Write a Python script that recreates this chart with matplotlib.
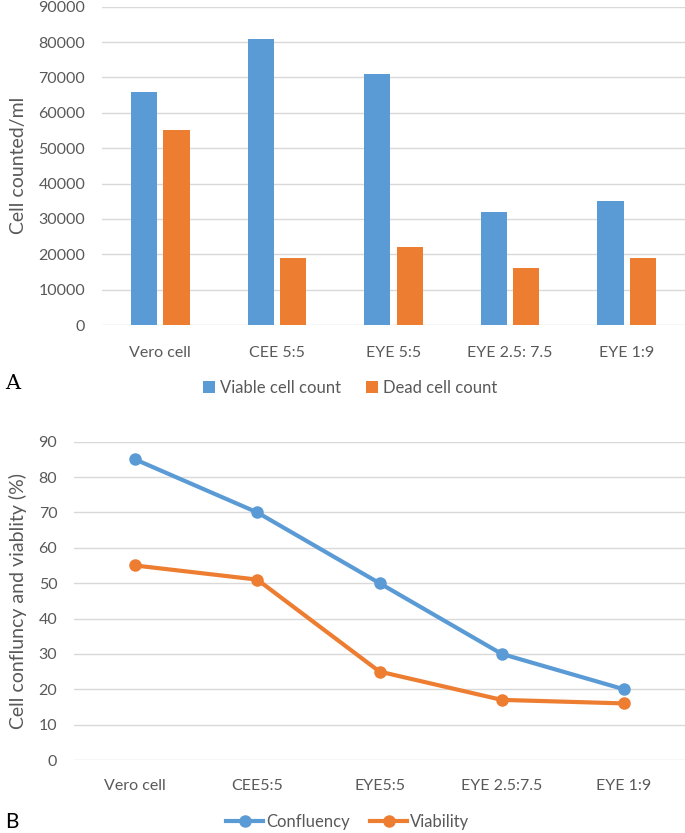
import matplotlib
matplotlib.use("Agg")
import matplotlib.pyplot as plt
import numpy as np

plt.rcParams["font.family"] = ["Lato", "DejaVu Sans"]

# panel A: cell counts
cats_a = ["Vero cell", "CEE 5:5", "EYE 5:5", "EYE 2.5: 7.5", "EYE 1:9"]
viable = [66000, 81000, 71000, 32000, 35000]
dead = [55000, 19000, 22000, 16000, 19000]

# panel B: confluency / viability
cats_b = ["Vero cell", "CEE5:5", "EYE5:5", "EYE 2.5:7.5", "EYE 1:9"]
confluency = [85, 70, 50, 30, 20]
viability = [55, 51, 25, 17, 16]

BLUE, ORANGE, GRID, TXT = "#5B9BD5", "#ED7D31", "#D9D9D9", "#595959"
W, H = 685, 833

fig = plt.figure(figsize=(W / 100, H / 100), dpi=100)


def style(ax):
    for s in ax.spines.values():
        s.set_visible(False)
    ax.grid(axis="y", color=GRID, lw=1)
    ax.set_axisbelow(True)
    ax.tick_params(length=0, colors=TXT, labelsize=11.5)
    ax.tick_params(axis="y", pad=12)


# ---- A ----
ax1 = fig.add_axes([102 / W, 1 - 325 / H, 583 / W, 318.3 / H])
x = np.arange(len(cats_a))
bw = 0.225
ax1.bar(x - bw / 2 - 0.027, viable, bw, color=BLUE, label="Viable cell count")
ax1.bar(x + bw / 2 + 0.027, dead, bw, color=ORANGE, label="Dead cell count")
ax1.set_xlim(-0.5, len(cats_a) - 0.5)
ax1.set_ylim(0, 90000)
ax1.set_yticks(np.arange(0, 90001, 10000))
ax1.set_xticks(x)
ax1.set_xticklabels(cats_a)
style(ax1)
ax1.tick_params(axis="x", pad=15)
ax1.set_ylabel("Cell counted/ml", color=TXT, fontsize=14, labelpad=8)
ax1.legend(loc="center", bbox_to_anchor=(350 / W, 1 - 388 / H),
           bbox_transform=fig.transFigure, ncol=2, frameon=False,
           fontsize=12, labelcolor=TXT, handlelength=0.7, handleheight=0.7,
           columnspacing=1.5, handletextpad=0.3)
fig.text(5 / W, 1 - 383 / H, "A", fontsize=15, family="DejaVu Serif",
         va="center", ha="left")

# ---- B ----
ax2 = fig.add_axes([74 / W, 1 - 760 / H, 611 / W, 318.3 / H])
xb = np.arange(len(cats_b))
ax2.plot(xb, confluency, "-o", color=BLUE, lw=3, ms=8, label="Confluency")
ax2.plot(xb, viability, "-o", color=ORANGE, lw=3, ms=8, label="Viability")
ax2.set_xlim(-0.5, len(cats_b) - 0.5)
ax2.set_ylim(0, 90)
ax2.set_yticks(np.arange(0, 91, 10))
ax2.set_xticks(xb)
ax2.set_xticklabels(cats_b)
style(ax2)
ax2.tick_params(axis="x", pad=14)
ax2.set_ylabel("Cell confluncy and viablity (%)", color=TXT, fontsize=14,
               labelpad=8)
ax2.legend(loc="center", bbox_to_anchor=(348 / W, 1 - 822 / H),
           bbox_transform=fig.transFigure, ncol=2, frameon=False,
           fontsize=12, labelcolor=TXT, handlelength=2.2,
           columnspacing=1.2, handletextpad=0.2)
fig.text(5 / W, 1 - 822 / H, "B", fontsize=15, va="center", ha="left")

fig.savefig("out.png", dpi=100)
